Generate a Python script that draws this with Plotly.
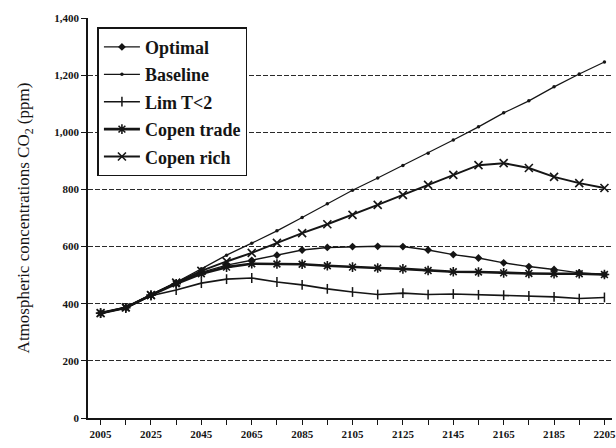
import plotly.graph_objects as go

# Years on the horizontal axis (one point per decade)
years = list(range(2005, 2206, 10))

# Atmospheric CO2 concentration (ppm) per scenario
optimal = [367, 386, 430, 472, 510, 535, 552, 570, 588, 597, 600,
           601, 600, 588, 572, 560, 543, 530, 520, 508, 502]
baseline = [367, 388, 432, 475, 522, 570, 612, 655, 702, 750, 797,
            840, 884, 927, 973, 1019, 1068, 1110, 1159, 1204, 1246]
lim_t2 = [367, 385, 428, 448, 472, 486, 490, 476, 466, 452, 441,
          432, 437, 432, 434, 431, 430, 427, 424, 418, 422]
copen_trade = [367, 386, 430, 470, 505, 528, 540, 539, 538, 533, 528,
               525, 522, 516, 512, 511, 508, 506, 505, 505, 502]
copen_rich = [367, 387, 430, 474, 515, 548, 578, 613, 647, 678, 711,
              746, 781, 816, 851, 885, 892, 875, 844, 822, 805]

x_tick_labels = [str(y) for y in range(2005, 2206, 20)]
y_tick_values = list(range(0, 1401, 200))
y_tick_labels = ["0", "200", "400", "600", "800", "1,000", "1,200", "1,400"]

SERIF = "Liberation Serif, DejaVu Serif, serif"
INK = "#151515"

series = [
    ("Optimal", optimal, dict(symbol="diamond", size=6, color=INK), 1.4),
    ("Baseline", baseline, dict(symbol="circle", size=3.5, color=INK), 1.2),
    ("Lim T<2", lim_t2, dict(symbol="line-ns-open", size=7,
                              line=dict(color=INK, width=1.5)), 1.6),
    ("Copen trade", copen_trade, dict(symbol="asterisk-open", size=8,
                                      line=dict(color=INK, width=1.6)), 2.6),
    ("Copen rich", copen_rich, dict(symbol="x-thin-open", size=8,
                                    line=dict(color=INK, width=1.6)), 2.0),
]

fig = go.Figure()
for name, values, marker, width in series:
    fig.add_trace(go.Scatter(
        x=years, y=values, name=name, legendgroup=name,
        mode="lines+markers",
        line=dict(color=INK, width=width), marker=marker,
    ))

fig.update_layout(
    width=616, height=448,
    margin=dict(l=88, r=0, t=18, b=30),
    paper_bgcolor="white", plot_bgcolor="white",
    font=dict(family=SERIF, color=INK),
    showlegend=True,
    legend=dict(
        x=0.018, y=0.977, xanchor="left", yanchor="top",
        bgcolor="white", bordercolor=INK, borderwidth=1.5,
        font=dict(family=SERIF, size=18, color=INK, weight="bold"),
        itemwidth=36, tracegroupgap=1,
    ),
)

fig.update_xaxes(
    range=[2000, 2208],
    tickmode="array", tickvals=list(range(2005, 2206, 20)),
    ticktext=x_tick_labels, ticklabeloverflow="allow",
    ticks="outside", ticklen=5, tickcolor=INK,
    minor=dict(dtick=10, tick0=2005, ticks="outside", ticklen=5, tickcolor=INK),
    tickfont=dict(family=SERIF, size=11, color=INK, weight="bold"),
    showline=True, linecolor=INK, linewidth=1.5,
    showgrid=False, zeroline=False,
)

fig.update_yaxes(
    range=[0, 1400],
    tickmode="array", tickvals=y_tick_values, ticktext=y_tick_labels,
    ticks="outside", ticklen=5, tickcolor=INK,
    tickfont=dict(family=SERIF, size=11, color=INK, weight="bold"),
    showline=True, linecolor=INK, linewidth=1.5,
    showgrid=True, gridcolor="#2a2a2a", gridwidth=1, griddash="5px,2px",
    zeroline=False,
    title=dict(text="Atmospheric concentrations CO<sub>2</sub> (ppm)",
               font=dict(family=SERIF, size=17, color=INK), standoff=20),
)

fig.write_html("out.html")
